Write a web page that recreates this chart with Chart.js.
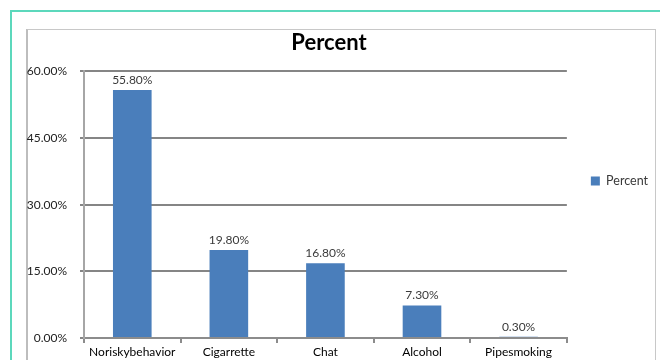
<!DOCTYPE html>
<html>
<head>
<meta charset="utf-8">
<title>Percent</title>
<script src="https://cdn.jsdelivr.net/npm/chart.js@4/dist/chart.umd.min.js"></script>
<style>
  html, body { margin: 0; padding: 0; background: #fff; overflow: hidden; width: 660px; height: 360px; }
  #frame { position: absolute; left: 10px; top: 10px; width: 660px; height: 400px;
           border-top: 2px solid #5cd8bc; border-left: 2px solid #5cd8bc; }
  #box { position: absolute; left: 26px; top: 29px; width: 627px; height: 400px;
         border: 1px solid #c8c8c8; border-left: 2px solid #bdbdbd; }
  #myChart { position: absolute; left: 0; top: 30px; }
</style>
</head>
<body>
<div id="frame"></div>
<div id="box"></div>
<canvas id="myChart" width="658" height="345"></canvas>

<script>
// chart data
let categories = ['Noriskybehavior', 'Cigarrette', 'Chat', 'Alcohol', 'Pipesmoking'];
let percentValues = [55.8, 19.8, 16.8, 7.3, 0.3];
let yTicks = [0, 15, 30, 45, 60];

const fontFamily = 'Lato, "Liberation Sans", sans-serif';

// value labels above each bar
const valueLabels = {
  id: 'valueLabels',
  afterDatasetsDraw(chart) {
    const ctx = chart.ctx;
    const meta = chart.getDatasetMeta(0);
    ctx.save();
    ctx.font = '12px ' + fontFamily;
    ctx.fillStyle = '#3a3a3a';
    ctx.textAlign = 'center';
    ctx.textBaseline = 'middle';
    meta.data.forEach((bar, i) => {
      ctx.fillText(percentValues[i].toFixed(2) + '%', bar.x, bar.y - 10);
    });
    ctx.restore();
  }
};

const ctx = document.getElementById('myChart');

new Chart(ctx, {
  type: 'bar',
  data: {
    labels: categories,
    datasets: [{
      label: 'Percent',
      data: percentValues,
      backgroundColor: '#4a7ebb',
      borderWidth: 0,
      barPercentage: 0.4,
      categoryPercentage: 1
    }]
  },
  options: {
    responsive: false,
    animation: false,
    layout: { padding: 0 },
    plugins: {
      title: {
        display: true,
        text: 'Percent',
        color: '#000',
        font: { family: fontFamily, size: 22, weight: 'bold' },
        padding: { top: 0, bottom: 15 }
      },
      legend: {
        position: 'right',
        align: 'start',
        fullSize: false,
        title: { display: true, text: '', padding: { top: 0, bottom: 65 } },
        labels: {
          boxWidth: 9,
          boxHeight: 9,
          padding: 24,
          color: '#3a3a3a',
          font: { family: fontFamily, size: 12.5 }
        }
      },
      tooltip: { enabled: false }
    },
    scales: {
      x: {
        grid: {
          drawOnChartArea: false,
          drawTicks: true,
          tickLength: 5,
          color: '#8c8c8c',
          lineWidth: 2,
          offset: true
        },
        border: { display: true, color: '#8c8c8c', width: 2 },
        ticks: {
          color: '#000',
          padding: 2,
          maxRotation: 0,
          autoSkip: false,
          font: { family: fontFamily, size: 12 }
        },
        afterFit: axis => { axis.height = 37; }
      },
      y: {
        min: 0,
        max: 60,
        afterBuildTicks: axis => { axis.ticks = yTicks.map(v => ({ value: v })); },
        grid: { color: '#858585', lineWidth: 2, tickLength: 4, drawTicks: true },
        border: { display: true, color: '#a6a6a6', width: 2 },
        ticks: {
          color: '#222',
          padding: 13,
          font: { family: fontFamily, size: 12 },
          callback: v => v.toFixed(2) + '%'
        },
        afterFit: axis => { axis.width = 84; }
      }
    }
  },
  plugins: [valueLabels]
});
</script>
</body>
</html>
